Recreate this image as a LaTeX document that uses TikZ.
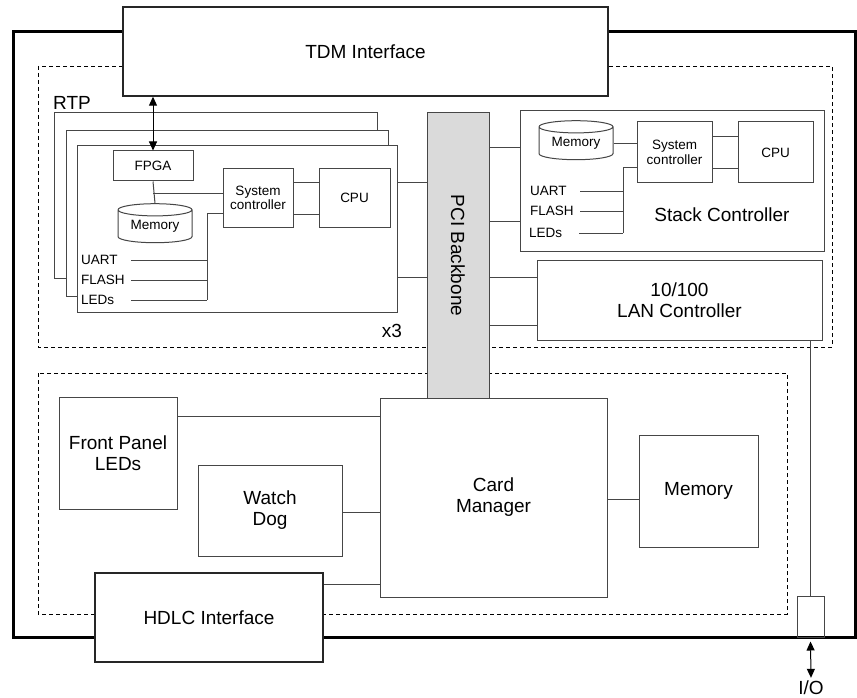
\documentclass[tikz,border=0pt]{standalone}
\usepackage{fontspec}
\setmainfont{Liberation Sans}
\usetikzlibrary{arrows.meta,positioning,shapes.geometric}
\definecolor{cline}{RGB}{70,70,70}
\definecolor{cpci}{RGB}{218,218,218}
\newcommand{\lblfont}{\fontsize{19}{21}\selectfont}
\newcommand{\sigfont}{\fontsize{13.5}{14.5}\selectfont}

\begin{document}
\begin{tikzpicture}[x=1pt, y=-1pt,
    blk/.style={draw=cline, fill=white, line width=1pt, inner sep=0pt, align=center, font=\lblfont},
    sub/.style={blk, font=\sigfont},
    mem/.style={sub, cylinder, shape border rotate=90, aspect=0.25},
    wire/.style={draw=cline, line width=1pt},
    group/.style={draw=black, dash pattern=on 4pt off 3pt, line width=0.8pt},
    sig/.style={font=\sigfont, anchor=west, inner sep=0pt},
    iolink/.style={<->, >={Triangle[length=9pt,width=8pt]}, line width=1pt}]

  \useasboundingbox (0,0) rectangle (857,698);

  % card outline and the two groups
  \draw[line width=3pt] (13,32) rectangle (855,637);
  \draw[group] (38,66) rectangle (832,347);
  \draw[group] (38,373) rectangle (787,614);

  \node[blk, line width=1.4pt, draw=black!85, minimum width=485, minimum height=89] (tdm) at (365.5,51.5) {TDM Interface};

  % RTP, three cards
  \node[font=\lblfont, inner sep=0pt] (rtplbl) at (72,103) {RTP};
  \node[blk, minimum width=323, minimum height=165] (rtp1) at (215.5,195.5) {};
  \node[blk, minimum width=322, minimum height=165] (rtp2) at (227,213.5) {};
  \node[blk, minimum width=320, minimum height=166] (rtp3) at (237,229) {};
  \node[font=\lblfont, inner sep=0pt] (times) at (392,331) {x3};

  \node[sub, minimum width=80, minimum height=30] (fpga) at (153,166) {FPGA};
  \node[mem, minimum width=74, minimum height=39] (rmem) at (155,226.5) {Memory};
  \node[sub, minimum width=70, minimum height=58] (rsys) at (258,198) {System\\controller};
  \node[sub, minimum width=71, minimum height=58] (rcpu) at (354.5,198) {CPU};
  \node[sig] (ruart) at (81,260) {UART};
  \node[sig] (rflash) at (81,280) {FLASH};
  \node[sig] (rleds) at (81,300) {LEDs};
  \coordinate (rbus) at (207,213);

  % PCI backbone
  \node[blk, fill=cpci, minimum width=62, minimum height=285] (pci) at (458,255.5) {};
  \node[rotate=-90, font=\lblfont] (pcilbl) at (pci.center) {PCI Backbone};

  % stack controller
  \node[blk, minimum width=304, minimum height=140] (stack) at (672,181) {};
  \node[font=\lblfont, inner sep=0pt] (stacklbl) at (722,215) {Stack Controller};
  \node[mem, minimum width=74, minimum height=39] (smem) at (576,143.5) {Memory};
  \node[sub, minimum width=75, minimum height=61] (ssys) at (674.5,152.5) {System\\controller};
  \node[sub, minimum width=75, minimum height=61] (scpu) at (775.5,152.5) {CPU};
  \node[sig] (suart) at (530,191) {UART};
  \node[sig] (sflash) at (530,211) {FLASH};
  \node[sig] (sleds) at (529,233) {LEDs};
  \coordinate (sbus) at (623,168);

  \node[blk, minimum width=285, minimum height=80] (lan) at (679.5,300) {10/100\\LAN Controller};

  % card manager group
  \node[blk, minimum width=227, minimum height=199] (cm) at (493.5,497.5) {Card\\Manager};
  \node[blk, minimum width=119, minimum height=112] (mem) at (698.5,491) {Memory};
  \node[blk, minimum width=118, minimum height=112] (fpl) at (118,453) {Front Panel\\LEDs};
  \node[blk, minimum width=144, minimum height=91] (wd) at (270,510.5) {Watch\\Dog};
  \node[blk, line width=2pt, draw=black!85, minimum width=228, minimum height=89] (hdlc) at (209,617.5) {HDLC Interface};
  \node[blk, fill=none, minimum width=27, minimum height=41] (io) at (810.5,616.5) {};
  \node[font=\lblfont, inner sep=0pt] (iolbl) at (811,688) {I/O};

  % RTP wiring
  \draw[iolink] (fpga.north |- tdm.south) -- (fpga.north);
  \draw[wire] (fpga.south) -- (rmem.north);
  \draw[wire] (fpga.south |- 0,193) -- (rsys.west |- 0,193);
  \draw[wire] (rsys.east |- 0,183) -- (rcpu.west |- 0,183);
  \draw[wire] (rsys.east |- 0,214) -- (rcpu.west |- 0,214);
  \draw[wire] (rsys.west |- rbus) -- (rbus) -- (rbus |- rleds.west);
  \foreach \s in {ruart,rflash,rleds}
    \draw[wire] ([xshift=50]\s.west) -- (rbus |- \s.west);
  \draw[wire] (rtp3.east |- 0,183) -- (pci.west |- 0,183);
  \draw[wire] (rtp3.east |- 0,277) -- (pci.west |- 0,277);

  % stack controller wiring
  \draw[wire] (smem.east) -- (ssys.west |- smem.east);
  \draw[wire] (ssys.east |- 0,137) -- (scpu.west |- 0,137);
  \draw[wire] (ssys.east |- 0,169) -- (scpu.west |- 0,169);
  \draw[wire] (ssys.west |- sbus) -- (sbus) -- (sbus |- sleds.west);
  \foreach \s in {suart,sflash,sleds}
    \draw[wire] ([xshift=50]\s.west) -- (sbus |- \s.west);
  \draw[wire] (pci.east |- 0,148) -- (stack.west |- 0,148);
  \draw[wire] (pci.east |- 0,221) -- (stack.west |- 0,221);
  \draw[wire] (pci.east |- 0,277) -- (lan.west |- 0,277);
  \draw[wire] (pci.east |- 0,325) -- (lan.west |- 0,325);
  \draw[wire] (lan.south -| io.north) -- (io.north);
  \draw[iolink] ([yshift=-4]io.south) -- ([yshift=3]iolbl.north);

  % card manager wiring
  \draw[wire] (fpl.east |- 0,416) -- (cm.west |- 0,416);
  \draw[wire] (wd.east |- 0,512) -- (cm.west |- 0,512);
  \draw[wire] (hdlc.east |- 0,584) -- (cm.west |- 0,584);
  \draw[wire] (cm.east |- 0,499) -- (mem.west |- 0,499);
\end{tikzpicture}
\end{document}
